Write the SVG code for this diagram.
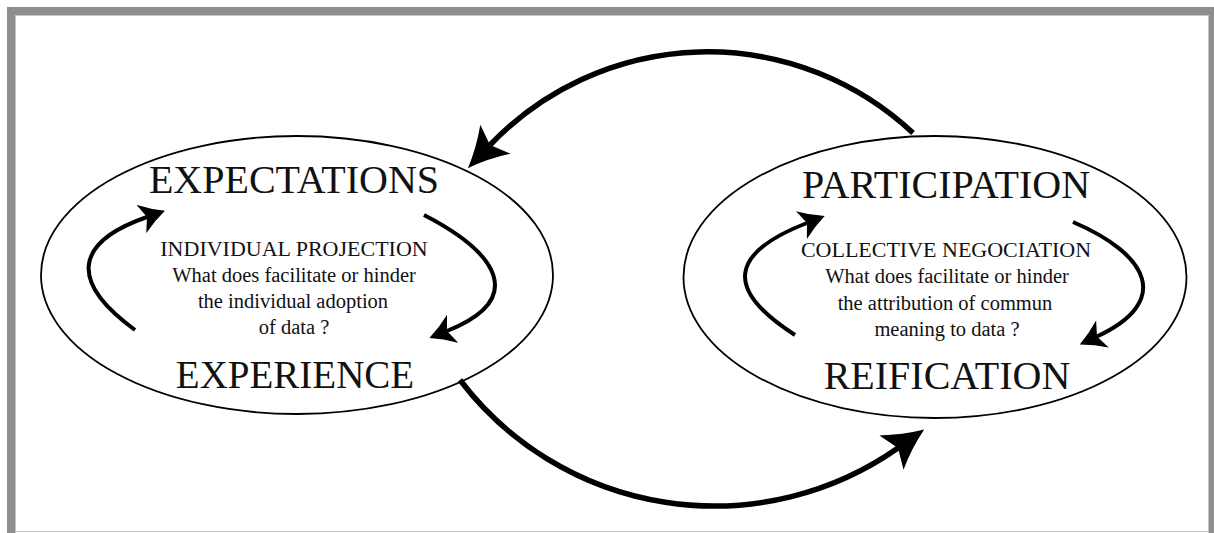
<svg xmlns="http://www.w3.org/2000/svg" width="1214" height="533" viewBox="0 0 1214 533">
<style>
.frame{fill:#8e8e8e}
.edge{stroke:#c4c4c4;stroke-width:1;fill:none}
.node ellipse{fill:none;stroke:#000;stroke-width:1.8}
text{font-family:"Liberation Serif","Times New Roman",serif;fill:#111;text-anchor:middle}
.title{font-size:40px}
.body{font-size:20.5px}
.caps{font-size:22px}
.big{fill:none;stroke:#000;stroke-width:5.5;marker-end:url(#ah-big)}
.small{fill:none;stroke:#000;stroke-width:4;marker-end:url(#ah-small)}
</style>
<defs>
<marker id="ah-big" markerUnits="userSpaceOnUse" viewBox="0 0 40 42" refX="8" refY="21" markerWidth="40" markerHeight="42" orient="auto">
<path d="M40,21 Q19,13 0,0 L8,21 L0,42 Q19,29 40,21 Z" fill="#000"/>
</marker>
<marker id="ah-small" markerUnits="userSpaceOnUse" viewBox="0 0 25 30" refX="6" refY="15" markerWidth="25" markerHeight="30" orient="auto">
<path d="M25,15 Q12,9 0,0 L6,15 L0,30 Q12,21 25,15 Z" fill="#000"/>
</marker>
</defs>
<rect width="1214" height="533" fill="#fff"/>
<g id="frame">
<rect class="frame" x="7" y="7" width="1207" height="8"/>
<rect class="frame" x="7" y="7" width="8" height="526"/>
<rect class="frame" x="1209" y="7" width="5" height="526"/>
<line class="edge" x1="15" y1="15.5" x2="1209" y2="15.5"/>
<line class="edge" x1="15.5" y1="15" x2="15.5" y2="533"/>
<line class="edge" x1="1208.5" y1="15" x2="1208.5" y2="533"/>
<line class="edge" x1="15" y1="531.5" x2="1209" y2="531.5"/>
</g>
<g id="individual" class="node">
<ellipse cx="297" cy="275" rx="256" ry="139"/>
<text class="title" x="294" y="193">EXPECTATIONS</text>
<text class="caps" x="294" y="256">INDIVIDUAL PROJECTION</text>
<text class="body" x="294" y="282">What does facilitate or hinder</text>
<text class="body" x="293" y="308">the individual adoption</text>
<text class="body" x="294" y="334">of data ?</text>
<text class="title" x="295" y="388" style="font-size:39px">EXPERIENCE</text>
</g>
<g id="collective" class="node">
<ellipse cx="935" cy="277" rx="251.5" ry="141"/>
<text class="title" x="946" y="198">PARTICIPATION</text>
<text class="caps" x="946" y="257">COLLECTIVE NEGOCIATION</text>
<text class="body" x="947" y="283">What does facilitate or hinder</text>
<text class="body" x="945" y="310">the attribution of commun</text>
<text class="body" x="947" y="336">meaning to data ?</text>
<text class="title" x="947" y="389">REIFICATION</text>
</g>
<g id="connectors">
<path class="big" d="M913,133 A300.5,300.5 0 0 0 490,145"/>
<path class="big" d="M460,380 A319.7,319.7 0 0 0 898,448"/>
<path class="small" d="M135,330 C70.2,282.8 72.5,243 147,217"/>
<path class="small" d="M424,215 C499.7,254.1 526,299.5 447,331"/>
<path class="small" d="M795,335 C724.4,289.6 728.8,253.4 807,223"/>
<path class="small" d="M1073,222 C1149.7,254.9 1171.9,301.6 1097,336.5"/>
</g>
</svg>
